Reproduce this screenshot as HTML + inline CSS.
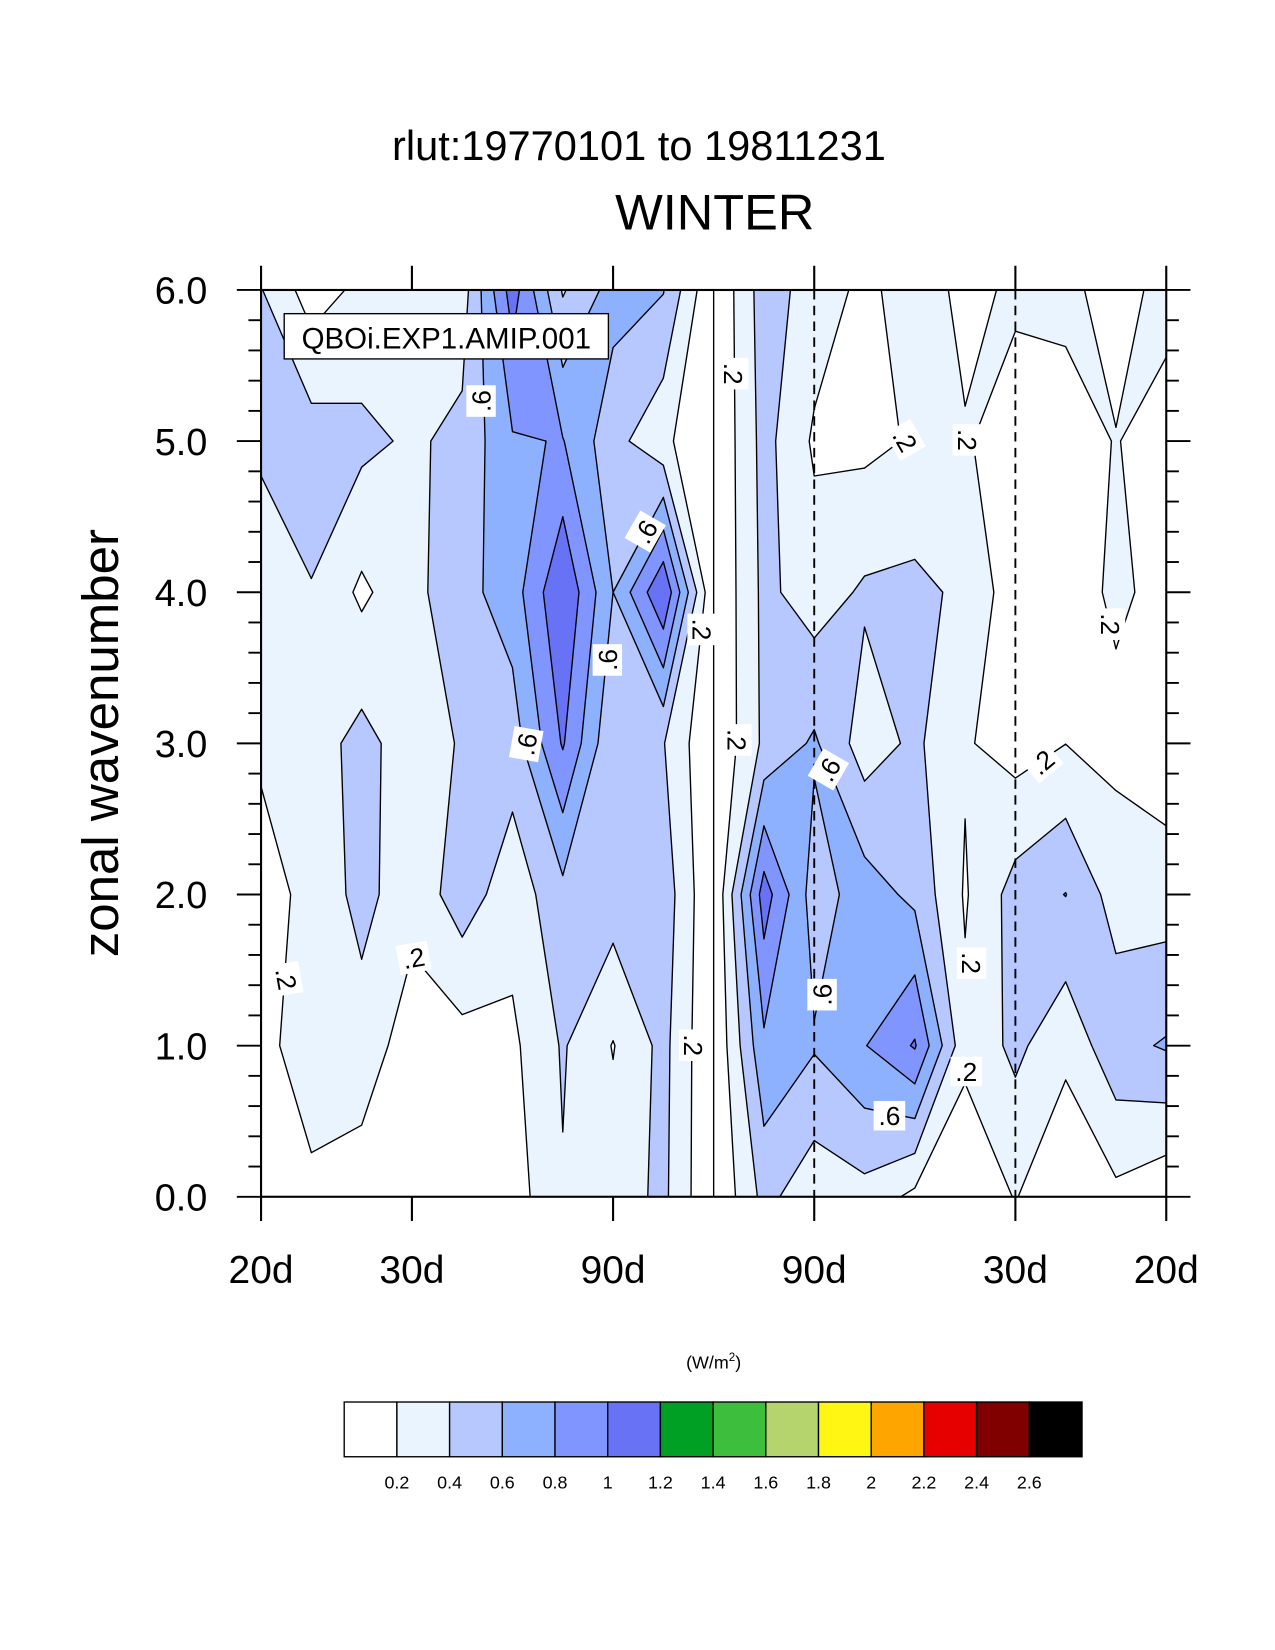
<!DOCTYPE html>
<html><head><meta charset="utf-8"><style>
html,body{margin:0;padding:0;background:#fff;}
svg{display:block;font-family:"Liberation Sans",Arial,sans-serif;}
</style></head><body>
<svg id="chart" width="1275" height="1650" viewBox="0 0 1211.3 1567.6" xmlns="http://www.w3.org/2000/svg">
<rect x="0" y="0" width="1211.3" height="1567.6" fill="#fff"/>
<text x="607" y="152" font-size="39.5" text-anchor="middle">rlut:19770101 to 19811231</text>
<text x="679" y="218" font-size="48" text-anchor="middle">WINTER</text>
<text x="112" y="706" font-size="48.5" text-anchor="middle" transform="rotate(-90 112 706)">zonal wavenumber</text>
<g id="plot"></g>
<g id="axes"></g>
<g id="labels"></g>
<g>
<rect x="270" y="298" width="308" height="43" fill="#fff" stroke="#000" stroke-width="1.3"/>
<text x="424" y="331" font-size="28" text-anchor="middle">QBOi.EXP1.AMIP.001</text>
</g>
<text x="678" y="1300" font-size="17" text-anchor="middle">(W/m<tspan font-size="11" dy="-7">2</tspan><tspan dy="7">)</tspan></text>
<g id="cbar"></g>
</svg>
<script>
// wavenumber rows (0..6), columns: frequency index -9..9 (k/180 cpd)
const freqIdx = [-9,-8,-7,-6,-5,-4,-3,-2,-1,0,1,2,3,4,5,6,7,8,9];
const wavenumbers = [0,1,2,3,4,5,6];
const wn0 = [0.1,0.165,0.11,0.08,0.08,0.1,0.385,0.3,0.445,0,0.46,0.27,0.33,0.15,0.05,0.21,0.03,0.15,0.04];
const wn1 = [0.15,0.285,0.3,0.11,0.12,0.16,0.42,0.19,0.46,0,0.76,0.62,0.79,1.02,0.25,0.45,0.25,0.54,0.62];
const wn2 = [0.15,0.235,0.475,0.26,0.51,0.28,0.54,0.5,0.52,0,1.1,0.5,0.7,0.55,0.18,0.485,0.605,0.31,0.3];
const wn3 = [0.22,0.3,0.47,0.29,0.42,0.5,1.02,0.42,0.41,0,0.44,0.63,0.3,0.44,0.22,0.115,0.198,0.15,0.08];
const wn4 = [0.3,0.39,0.16,0.34,0.53,0.7,1.19,0.6,1.19,0,0.45,0.3,0.43,0.45,0.36,0.08,0.12,0.23,0.15];
const wn5 = [0.43,0.5,0.45,0.37,0.45,0.78,0.81,0.47,0.25,0,0.47,0.17,0.15,0.22,0.215,0.12,0.15,0.205,0.15];
const wn6 = [0.41,0.1,0.25,0.3,0.3,1.1,0.38,0.68,0.61,0,0.5,0.31,0.15,0.3,0.15,0.23,0.23,0.15,0.24];
const levels = [0.2,0.4,0.6,0.8,1.0,1.2];
const cbarLabels = ["0.2","0.4","0.6","0.8","1","1.2","1.4","1.6","1.8","2","2.2","2.4","2.6"];
const xTickLabels = ["20d","30d","90d","90d","30d","20d"];
const xTickFreq = [-1/20,-1/30,-1/90,1/90,1/30,1/20];
const yTickLabels = ["0.0","1.0","2.0","3.0","4.0","5.0","6.0"];

const grid = [wn0,wn1,wn2,wn3,wn4,wn5,wn6];
const bandColors = ["#EAF4FF","#B6C8FF","#8EB1FF","#8095FF","#6872F5","#00A024"];
const cbarColors = ["#FFFFFF","#EAF4FF","#B6C8FF","#8EB1FF","#8095FF","#6872F5","#00A024","#3DBE3D","#B5D46E","#FFF614","#FFA500","#E60000","#800000","#000000"];
const X0=248, X1=1108, Y0=275.5, Y1=1137;
const NS="http://www.w3.org/2000/svg";
function xFreq(f){return X0+(f+0.05)/0.1*(X1-X0);}
function xIdx(k){return xFreq(k/180);}
function yWn(m){return Y1-m/6*(Y1-Y0);}
function mk(tag,attrs,parent){const e=document.createElementNS(NS,tag);for(const a in attrs)e.setAttribute(a,attrs[a]);parent.appendChild(e);return e;}

const plot=document.getElementById('plot');
const bg=mk('rect',{x:X0,y:Y0,width:X1-X0,height:Y1-Y0,fill:'#fff'},plot);



function clip(poly,L){
  const out=[];const n=poly.length;
  for(let i=0;i<n;i++){
    const a=poly[i],b=poly[(i+1)%n];
    const ai=a.v>=L, bi=b.v>=L;
    if(ai) out.push(a);
    if(ai!==bi){const t=(L-a.v)/(b.v-a.v);out.push({x:a.x+t*(b.x-a.x),y:a.y+t*(b.y-a.y),v:L,cut:true});}
  }
  return out;
}
let linePath='';
levels.forEach((L,li)=>{
  let d='';
  for(let m=0;m<6;m++){
    for(let k=0;k<18;k++){
      const q=[
        {x:xIdx(freqIdx[k]),y:yWn(wavenumbers[m]),v:grid[m][k]},
        {x:xIdx(freqIdx[k+1]),y:yWn(wavenumbers[m]),v:grid[m][k+1]},
        {x:xIdx(freqIdx[k+1]),y:yWn(wavenumbers[m+1]),v:grid[m+1][k+1]},
        {x:xIdx(freqIdx[k]),y:yWn(wavenumbers[m+1]),v:grid[m+1][k]}];
      const p=clip(q,L);
      if(p.length>=3){
        d+='M'+p.map(o=>o.x.toFixed(2)+' '+o.y.toFixed(2)).join('L')+'Z';
        for(let i=0;i<p.length;i++){
          const a=p[i],b=p[(i+1)%p.length];
          if(a.cut&&b.cut) linePath+='M'+a.x.toFixed(2)+' '+a.y.toFixed(2)+'L'+b.x.toFixed(2)+' '+b.y.toFixed(2);
        }
      }
    }
  }
  if(d){
    const e=mk('path',{d:d,fill:bandColors[li],stroke:bandColors[li],'stroke-width':0.6,'stroke-linejoin':'round'},plot);
    
    
  }
});
const cl=mk('path',{d:linePath,fill:'none',stroke:'#000','stroke-width':1.3,'stroke-linecap':'round'},plot);


const zl=mk('line',{x1:xFreq(0),x2:xFreq(0),y1:Y0,y2:Y1,stroke:'#000','stroke-width':1.3},plot);


[1/90,1/30].forEach((f,i)=>{
  const e=mk('line',{x1:xFreq(f),x2:xFreq(f),y1:Y0,y2:Y1,stroke:'#000','stroke-width':1.8,'stroke-dasharray':'9 6'},plot);
  
  
});

// axes
const axes=document.getElementById('axes');
const frame=mk('rect',{x:X0,y:Y0,width:X1-X0,height:Y1-Y0,fill:'none',stroke:'#000','stroke-width':2},axes);


xTickFreq.forEach((f,i)=>{
  const x=xFreq(f);
  mk('line',{x1:x,x2:x,y1:Y1,y2:Y1+23,stroke:'#000','stroke-width':2},axes);
  mk('line',{x1:x,x2:x,y1:Y0,y2:Y0-23,stroke:'#000','stroke-width':2},axes);
  const t=mk('text',{x:x,y:1219,'font-size':37,'text-anchor':'middle'},axes);
  t.textContent=xTickLabels[i];
  
  
});
for(let j=0;j<=30;j++){
  const y=Y1-j/30*(Y1-Y0);
  const major=j%5===0;
  const len=major?23:12;
  mk('line',{x1:X0,x2:X0-len,y1:y,y2:y,stroke:'#000','stroke-width':1.8},axes);
  mk('line',{x1:X1,x2:X1+len,y1:y,y2:y,stroke:'#000','stroke-width':1.8},axes);
}
yTickLabels.forEach((s,i)=>{
  const t=mk('text',{x:197,y:yWn(wavenumbers[i])+13,'font-size':36,'text-anchor':'end'},axes);
  t.textContent=s;
  
  
});

// contour labels (x, y, text, rotation)
const labelTexts=[".6",".6",".6",".6",".6",".6",".6",".2",".2",".2",".2",".2",".2",".2",".2",".2",".2",".2",".2"];
const labelPos=[[457,381,-90],[613,505,-60],[577,627,-90],[500,707,-80],[787,731,-60],[781,945,-90],[845,1060,0],
 [697,355,90],[860,418,60],[919,418,90],[667,598,90],[700,703,90],[272,930,80],[393,910,-10],[659,993,90],[923,915,90],[918,1018,0],[990,724,-40],[1055,593,90]];
const lab=document.getElementById('labels');
labelTexts.forEach((s,i)=>{
  const [x,y,r]=labelPos[i];
  const g=mk('g',{transform:'translate('+x+' '+y+') rotate('+r+')'},lab);
  
  
  mk('rect',{x:-15,y:-14,width:30,height:28,fill:'#fff'},g);
  const t=mk('text',{x:0,y:9,'font-size':25,'text-anchor':'middle'},g);
  t.textContent=s;
});

// colorbar
const cb=document.getElementById('cbar');
const CX0=327, CW=50.07, CY=1332, CH=52;
cbarColors.forEach((c,i)=>{
  const r=mk('rect',{x:CX0+i*CW,y:CY,width:CW,height:CH,fill:c,stroke:'#000','stroke-width':1.3},cb);
  
  
});
cbarLabels.forEach((s,i)=>{
  const t=mk('text',{x:CX0+(i+1)*CW,y:1414,'font-size':17,'text-anchor':'middle'},cb);
  t.textContent=s;
  
  
});
</script>
</body></html>
